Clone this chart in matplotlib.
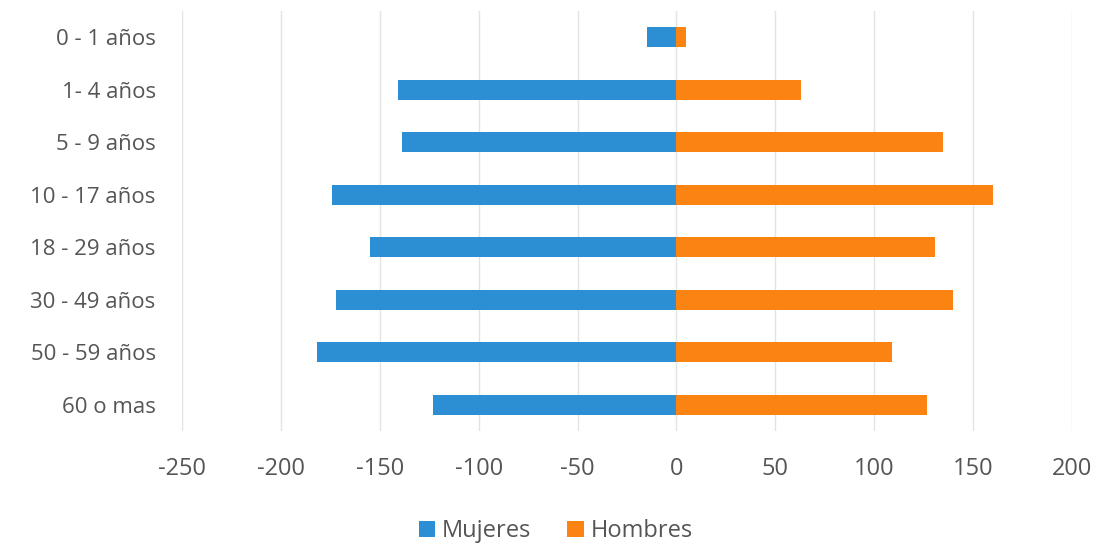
import numpy as np
import matplotlib.pyplot as plt

# Datos
grupos = ['0 - 1 años', '1- 4 años', '5 - 9 años', '10 - 17 años',
          '18 - 29 años', '30 - 49 años', '50 - 59 años', '60 o mas']
mujeres = [-15, -141, -139, -174, -155, -172, -182, -123]
hombres = [5, 63, 135, 160, 131, 140, 109, 127]
ticks_x = [-250, -200, -150, -100, -50, 0, 50, 100, 150, 200]

plt.rcParams['font.family'] = ['Open Sans', 'DejaVu Sans']
plt.rcParams['axes.unicode_minus'] = False
narrow = ['Liberation Sans Narrow', 'Open Sans', 'DejaVu Sans']

fig = plt.figure(figsize=(10.97, 5.46), dpi=100)
ax = fig.add_axes([0.166, 0.211, 0.811, 0.769])

y = np.arange(len(grupos))
ax.barh(y, mujeres, height=0.38, color='#2c8fd3', label='Mujeres', zorder=3)
ax.barh(y, hombres, height=0.38, color='#fb8312', label='Hombres', zorder=3)

ax.set_xlim(-250, 200)
ax.set_ylim(len(grupos) - 0.5, -0.5)
ax.set_xticks(ticks_x)
ax.set_yticks(y)
ax.set_yticklabels(grupos)
ax.tick_params(axis='both', length=0, labelcolor='#555555')
ax.tick_params(axis='y', pad=19, labelsize=16)
ax.tick_params(axis='x', pad=19, labelsize=17)
for lb in ax.get_xticklabels():
    lb.set_family(narrow)
ax.grid(axis='x', color='#e3e3e3', linewidth=1, zorder=0)
for s in ax.spines.values():
    s.set_visible(False)

ax.legend(loc='upper center', bbox_to_anchor=(0.42, -0.16), ncol=2, frameon=False,
          prop={'family': narrow, 'size': 17}, handlelength=0.7, handleheight=0.7,
          handletextpad=0.3, columnspacing=1.5, labelcolor='#555555')

fig.savefig('out.png', dpi=100, facecolor='white')
